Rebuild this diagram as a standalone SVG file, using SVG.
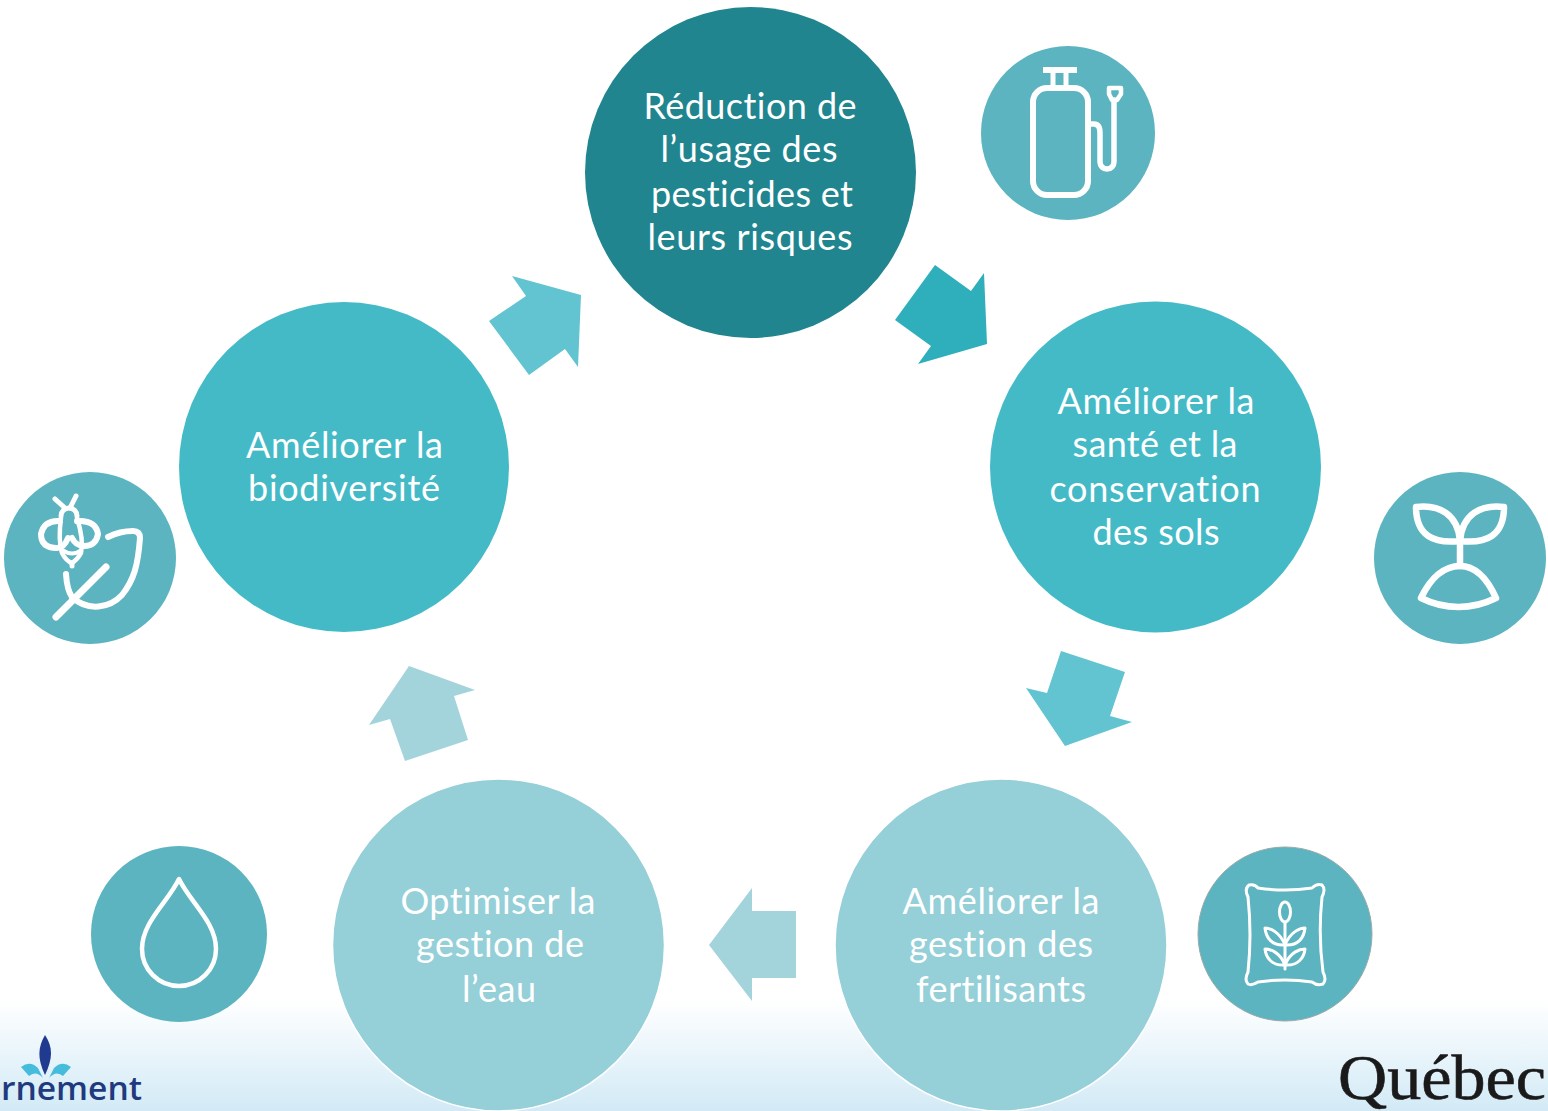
<svg xmlns="http://www.w3.org/2000/svg" width="1548" height="1111" viewBox="0 0 1548 1111">
<defs>
<linearGradient id="bg" x1="0" y1="0" x2="0" y2="1"><stop offset="0" stop-color="#ffffff"/><stop offset="1" stop-color="#d2eaf6"/></linearGradient>
<style>
.t{font-family:"Lato","Carlito","Liberation Sans",sans-serif;font-size:36px;fill:#fff;text-anchor:middle;font-variant-ligatures:none}
.c1{fill:#20858e}.c2{fill:#44bac7}.c3{fill:#95cfd8}
.ic{fill:#5bb4bf}
.ln{fill:none;stroke:#fff;stroke-linecap:round;stroke-linejoin:round}
</style>
</defs>
<rect x="0" y="0" width="1548" height="1111" fill="#fff"/>
<rect x="0" y="1000" width="1548" height="111" fill="url(#bg)"/>
<g id="connectors">
<polygon points="935,265 971,291 984,273 987,344 918,364 931,346 895,320" fill="#2eafbb"/>
<polygon points="1061,651 1125,672 1110,716 1132,722 1065,746 1026,688 1047,693" fill="#63c4d1"/>
<polygon points="709,945 752,888 752,911 796,911 796,978 752,978 752,1001" fill="#a3d3db"/>
<polygon points="475,690 409,666 369,725 390,719 405,761 468,740 454,696" fill="#a3d3db"/>
<polygon points="581,295 512,276 526,296 489,321 529,375 565,349 578,367" fill="#63c4d1"/>
</g>
<g id="node-pesticides">
<circle class="c1" cx="750.500" cy="172.500" r="165.500"/>
<text class="t" x="750" y="119" textLength="213">Réduction de</text>
<text class="t" x="749" y="162" textLength="177">l’usage des</text>
<text class="t" x="752" y="207" textLength="202">pesticides et</text>
<text class="t" x="750" y="250" textLength="205">leurs risques</text>
</g>
<g id="node-sols">
<circle class="c2" cx="1155.500" cy="467" r="165.500"/>
<text class="t" x="1156" y="414" textLength="197">Améliorer la</text>
<text class="t" x="1155" y="457" textLength="165">santé et la</text>
<text class="t" x="1155" y="502" textLength="211">conservation</text>
<text class="t" x="1156" y="545" textLength="127">des sols</text>
</g>
<g id="node-fertilisants">
<circle class="c3" cx="1001" cy="945" r="166" stroke="#fff" stroke-width="1.500"/>
<text class="t" x="1001" y="914" textLength="197">Améliorer la</text>
<text class="t" x="1001" y="957" textLength="184">gestion des</text>
<text class="t" x="1001" y="1002" textLength="170">fertilisants</text>
</g>
<g id="node-eau">
<circle class="c3" cx="498.500" cy="945" r="166" stroke="#fff" stroke-width="1.500"/>
<text class="t" x="498" y="914" textLength="195">Optimiser la</text>
<text class="t" x="500" y="957" textLength="168">gestion de</text>
<text class="t" x="499" y="1002" textLength="74">l’eau</text>
</g>
<g id="node-biodiversite">
<circle class="c2" cx="344" cy="467" r="165"/>
<text class="t" x="344.500" y="458" textLength="197">Améliorer la</text>
<text class="t" x="344" y="501" textLength="192">biodiversité</text>
</g>
<g id="icon-sprayer">
<circle class="ic" cx="1068" cy="133" r="87"/>
<g class="ln" stroke-width="6">
<rect x="1033" y="88" width="55" height="107" rx="14"/>
<path d="M1043,70H1077" stroke-linecap="butt"/>
<path d="M1053,72V87M1066,72V87" stroke-width="5" stroke-linecap="butt"/>
<path d="M1090,124H1094Q1100,124 1100,133V162A6.500,6.500 0 0 0 1114,162V100" stroke-width="5.500"/>
<path d="M1109,88H1121V94L1117,100H1112L1109,94Z" stroke-width="4.500"/>
</g>
</g>
<g id="icon-plant">
<circle class="ic" cx="1460" cy="558" r="86"/>
<g class="ln" stroke-width="6.500">
<path d="M1416,507C1440,504 1458,515 1460,541C1434,544 1416,536 1416,507Z"/>
<path d="M1504,507C1480,504 1462,515 1460,541C1486,544 1504,536 1504,507Z"/>
<path d="M1460,541V566"/>
<path d="M1421,598C1431,577 1445,566 1460,566C1475,566 1487,578 1496,598C1472,610 1445,610 1421,598Z"/>
</g>
</g>
<g id="icon-bee">
<circle class="ic" cx="90" cy="558" r="86"/>
<g class="ln" stroke-width="6">
<path d="M55,499L65,508M76,496L70,508" stroke-width="5"/>
<path d="M61,516A8,8 0 0 1 77,516" stroke-width="5"/>
<path d="M60,521Q44,520 41,534Q41,548 57,548Q64,548 68,538"/>
<path d="M77,521Q96,520 98,534Q96,546 84,546Q76,546 72,538"/>
<path d="M61,518Q58,540 62,553Q66,561 72,563Q78,559 81,553Q84,540 77,518" stroke-width="4.500"/>
<path d="M64,551Q72,556 80,551" stroke-width="4"/>
<path d="M72,563V566" stroke-width="5"/>
<path d="M108,537Q120,531 133,531Q140,531 140,538C138,565 134,580 122,595C110,608 88,612 72,597"/>
<path d="M66,574Q67,590 72,597"/>
<path d="M106,567L56,617" stroke-width="7"/>
</g>
</g>
<g id="icon-drop">
<circle class="ic" cx="179" cy="934" r="88"/>
<path class="ln" stroke-width="4.500" d="M179,879C168,902 142,922 142,949A37,37 0 0 0 216,949C216,922 190,902 179,879Z"/>
</g>
<g id="icon-sack">
<circle class="ic" cx="1285" cy="934" r="87" stroke="#9aa" stroke-width="1"/>
<g class="ln" stroke-width="3">
<path d="M1249,885Q1255,884 1258,888Q1285,892 1312,888Q1317,883 1322,885Q1326,889 1322,897Q1318,935 1323,972Q1327,980 1323,984Q1317,986 1312,982Q1285,978 1258,982Q1252,986 1248,984Q1244,980 1248,972Q1252,935 1248,897Q1244,889 1249,885Z"/>
<ellipse cx="1285" cy="912" rx="5.500" ry="10"/>
<path d="M1285,923V969"/>
<path d="M1285,945C1280,932 1270,928 1265,928C1266,938 1272,946 1285,945C1298,946 1304,938 1305,928C1300,928 1290,932 1285,945Z"/>
<path d="M1285,965C1280,952 1270,949 1265,949C1266,958 1272,966 1285,965C1298,966 1304,958 1305,949C1300,949 1290,952 1285,965Z"/>
</g>
</g>
<g id="logo-gouvernement">
<path d="M45,1035C38,1047 37,1058 45,1075C53,1058 53,1047 45,1035Z" fill="#1f3a8e"/>
<path d="M21,1067Q30,1060 38,1068L43,1078Q36,1070 29,1076Z" fill="#46bcdc"/>
<path d="M71,1067Q62,1060 54,1068L49,1078Q56,1070 63,1076Z" fill="#46bcdc"/>
<text x="1" y="1100" textLength="141" lengthAdjust="spacingAndGlyphs" font-family="'Open Sans','Noto Sans',sans-serif" font-weight="600" font-size="33" fill="#1f3a7e">rnement</text>
</g>
<g id="logo-quebec">
<text x="1338" y="1099" textLength="208" lengthAdjust="spacingAndGlyphs" font-family="'Liberation Serif',serif" font-size="64" fill="#1a1a1a" stroke="#1a1a1a" stroke-width="0.600">Québec</text>
</g>
</svg>
